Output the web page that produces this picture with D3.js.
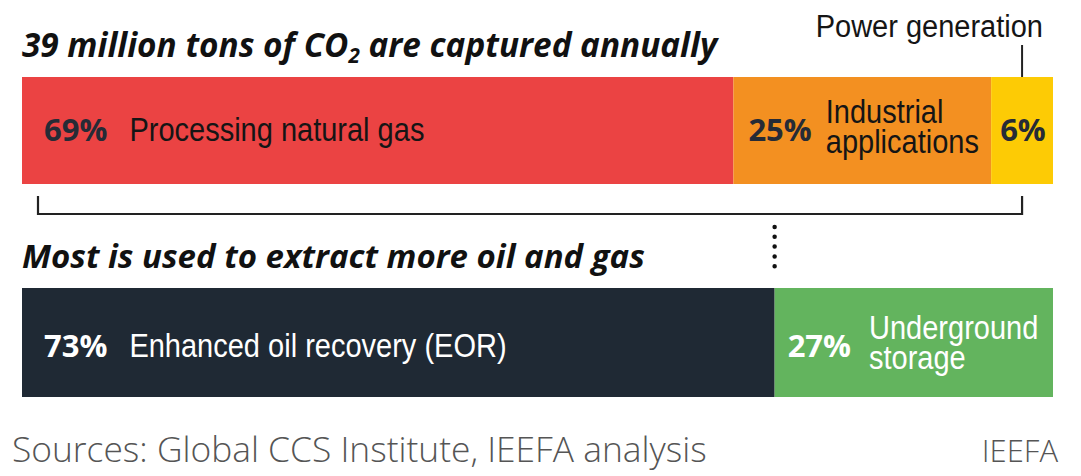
<!DOCTYPE html>
<html>
<head>
<meta charset="utf-8">
<script src="https://cdn.jsdelivr.net/npm/d3@7"></script>
<style>
  body { margin: 0; background: #fff; }
  svg { display: block; }
</style>
</head>
<body>
<script>
// captured CO2 by source (share, %)
var sourceCats = ["Processing natural gas", "Industrial applications", "Power generation"];
var sourceVals = [69, 25, 6];
var sourceColors = ["#eb4343", "#f39021", "#fdcb05"];

// what happens to it (share, %)
var useCats = ["Enhanced oil recovery (EOR)", "Underground storage"];
var useVals = [73, 27];
var useColors = ["#1f2934", "#63b45e"];

var titleTop = "39 million tons of CO";
var titleBottom = "Most is used to extract more oil and gas";
var sourceNote = "Sources: Global CCS Institute, IEEFA analysis";
var credit = "IEEFA";

var width = 1081, height = 476;
var narrow = "'Liberation Sans Narrow', 'Arial Narrow', 'Liberation Sans', Arial, sans-serif";
var sans = "'Open Sans', 'Noto Sans', sans-serif";

var svg = d3.select("body").append("svg")
    .attr("width", width)
    .attr("height", height);

var x = d3.scaleLinear().domain([0, 100]).range([22, 1053]);

// tall condensed look: measure at base size, draw bigger, squeeze back
function condensed(t, base, big){
    t.attr("font-size", base);
    var w = t.node().getComputedTextLength();
    t.attr("font-size", big)
        .attr("textLength", w)
        .attr("lengthAdjust", "spacingAndGlyphs");
}
// scale font size so text fills a width
function fit(t, w){
    t.each(function(){
        var fs = parseFloat(d3.select(this).attr("font-size"));
        var cur = this.getBBox().width;
        d3.select(this).attr("font-size", fs * w / cur);
    });
}

function stack(vals){
    var acc = 0;
    return vals.map(function(v){ var s = acc; acc += v; return [s, acc]; });
}

// bars
function drawBar(cats, vals, colors, y0, h, pctColor, txtColor, opts, dy){
    var segs = stack(vals);
    var g = svg.append("g");
    g.selectAll("rect").data(segs).enter().append("rect")
        .attr("x", function(d){ return x(d[0]); })
        .attr("y", y0)
        .attr("width", function(d){ return x(d[1]) - x(d[0]); })
        .attr("height", h)
        .attr("fill", function(d, i){ return colors[i]; });

    segs.forEach(function(d, i){
        var o = opts[i];
        var cy = y0 + h / 2;
        var pct = g.append("text")
            .attr("x", x(d[0]) + o.pad)
            .attr("y", cy + dy)
            .attr("font-family", sans)
            .attr("font-weight", 700)
            .attr("font-size", 31)
            .attr("fill", pctColor)
            .text(vals[i] + "%");
        if (o.lines === 0) return;
        var px = x(d[0]) + o.pad + pct.node().getComputedTextLength() + o.gap;
        var words = o.lines === 2 ? o.split : [cats[i]];
        words.forEach(function(line, j){
            var ty = words.length === 1 ? cy + dy : cy + dy - 18 + j * 30;
            var t = g.append("text")
                .attr("x", px)
                .attr("y", ty)
                .attr("font-family", narrow)
                .attr("fill", txtColor)
                .text(line);
            condensed(t, 29, 34);
        });
    });
}

drawBar(sourceCats, sourceVals, sourceColors, 77, 107, "#262b36", "#151515", [
    {pad: 22, gap: 22, lines: 1},
    {pad: 15, gap: 14, lines: 2, split: ["Industrial", "applications"]},
    {pad: 9, gap: 0, lines: 0}
], 10);

drawBar(useCats, useVals, useColors, 288, 109, "#ffffff", "#ffffff", [
    {pad: 22, gap: 22, lines: 1},
    {pad: 13, gap: 18, lines: 2, split: ["Underground", "storage"]}
], 14);

// titles
var t1 = svg.append("text")
    .attr("x", 22).attr("y", 57)
    .attr("font-family", sans)
    .attr("font-style", "italic")
    .attr("font-weight", 700)
    .attr("font-size", 28)
    .attr("fill", "#111");
t1.append("tspan").text(titleTop);
t1.append("tspan").attr("font-size", "0.62em").attr("dy", 6).text("2");
t1.append("tspan").attr("dy", -6).text(" are captured annually");
fit(t1, 697);

var t2 = svg.append("text")
    .attr("x", 22).attr("y", 268)
    .attr("font-family", sans)
    .attr("font-style", "italic")
    .attr("font-weight", 700)
    .attr("font-size", 28)
    .attr("fill", "#111")
    .text(titleBottom);
fit(t2, 623);

// power generation callout
var callX = x(97);
var pg = svg.append("text")
    .attr("x", 1043).attr("y", 37)
    .attr("text-anchor", "end")
    .attr("font-family", narrow)
    .attr("fill", "#151515")
    .text(sourceCats[2]);
condensed(pg, 29, 31);
svg.append("line")
    .attr("x1", callX).attr("x2", callX)
    .attr("y1", 45).attr("y2", 77)
    .attr("stroke", "#222").attr("stroke-width", 2);

// bracket under the top bar
svg.append("path")
    .attr("d", "M" + 38 + ",196V214H" + callX + "V196")
    .attr("fill", "none")
    .attr("stroke", "#222")
    .attr("stroke-width", 2.2);

// dotted connector at EOR split
var splitX = x(useVals[0]);
svg.append("line")
    .attr("x1", splitX).attr("x2", splitX)
    .attr("y1", 227).attr("y2", 276)
    .attr("stroke", "#111")
    .attr("stroke-width", 4.5)
    .attr("stroke-linecap", "round")
    .attr("stroke-dasharray", "0,9.8");

// footer
var src = svg.append("text")
    .attr("x", 12).attr("y", 462)
    .attr("font-family", sans)
    .attr("font-weight", 300)
    .attr("font-size", 32)
    .attr("fill", "#555")
    .text(sourceNote);
fit(src, 695);

var cr = svg.append("text")
    .attr("x", 1058).attr("y", 462)
    .attr("text-anchor", "end")
    .attr("font-family", sans)
    .attr("font-weight", 300)
    .attr("font-size", 31)
    .attr("fill", "#555")
    .text(credit);
</script>
</body>
</html>
